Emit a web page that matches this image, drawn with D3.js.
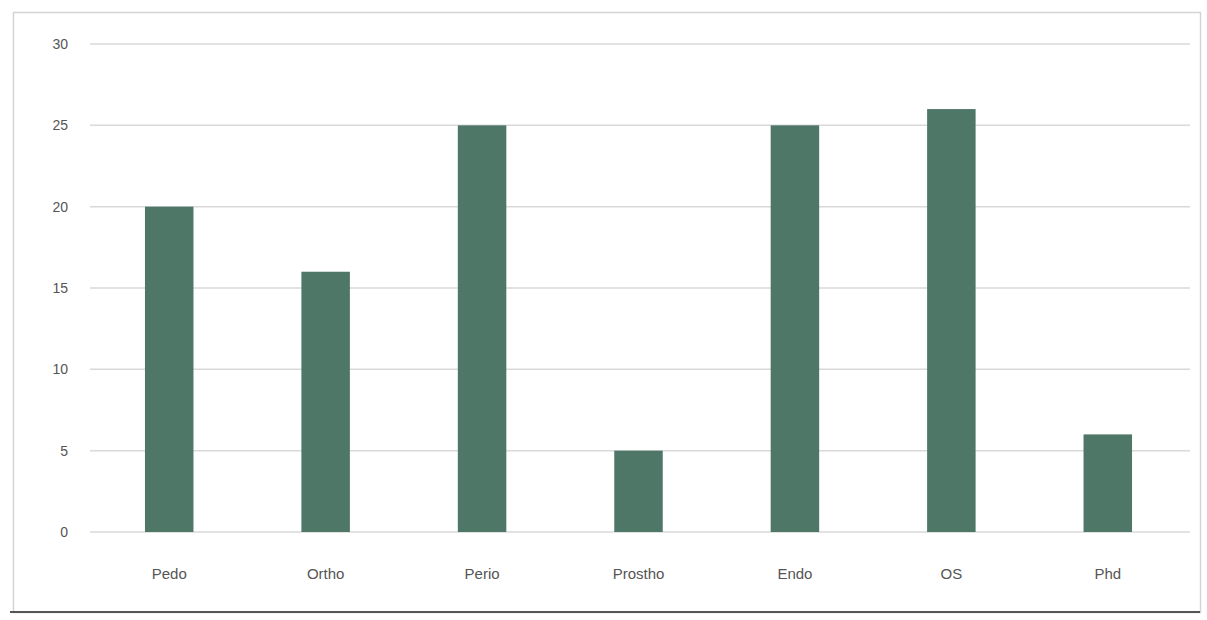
<!DOCTYPE html>
<html><head><meta charset="utf-8">
<script src="https://cdn.jsdelivr.net/npm/d3@7"></script>
<style>body{margin:0;background:#fff}svg{display:block}</style>
</head><body>
<script>
const categories = ["Pedo","Ortho","Perio","Prostho","Endo","OS","Phd"];
const values = [20,16,25,5,25,26,6];
const yTicks = [0,5,10,15,20,25,30];

const W = 1207, H = 620;
const svg = d3.select("body").append("svg").attr("width",W).attr("height",H);

svg.append("rect").attr("x",13.5).attr("y",12.5).attr("width",1187).attr("height",600)
  .attr("fill","#fff").attr("stroke","#d4d4d4").attr("stroke-width",1.5);
svg.append("line").attr("x1",10).attr("x2",1200).attr("y1",612).attr("y2",612)
  .attr("stroke","#555").attr("stroke-width",2);

const x = d3.scaleBand().domain(categories).range([91,1186]).paddingInner(0.69).paddingOuter(0.345);
const y = d3.scaleLinear().domain([0,30]).range([532,44]);

const grid = svg.append("g").attr("class","grid");
grid.selectAll("line").data(yTicks).enter().append("line")
  .attr("x1",90).attr("x2",1190)
  .attr("y1",d=>y(d)).attr("y2",d=>y(d))
  .attr("stroke","#d9d9d9").attr("stroke-width",1.5);

const yAxis = svg.append("g").attr("transform","translate(68,0)")
  .call(d3.axisLeft(y).tickValues(yTicks).tickSize(0).tickPadding(0));
yAxis.select(".domain").remove();
yAxis.selectAll("text").attr("fill","#555").style("font-family","'Liberation Sans', Arial, sans-serif").style("font-size","14px");

svg.selectAll("rect.bar").data(values).enter().append("rect").attr("class","bar")
  .attr("x",(d,i)=>x(categories[i])).attr("width",x.bandwidth())
  .attr("y",d=>y(d)).attr("height",d=>y(0)-y(d))
  .attr("fill","#4f7767");

const xAxis = svg.append("g").attr("transform","translate(0,"+y(0)+")")
  .call(d3.axisBottom(x).tickSize(0).tickPadding(36));
xAxis.select(".domain").remove();
xAxis.selectAll("text").attr("fill","#555").style("font-family","'Liberation Sans', Arial, sans-serif").style("font-size","15px");
</script>
</body></html>
